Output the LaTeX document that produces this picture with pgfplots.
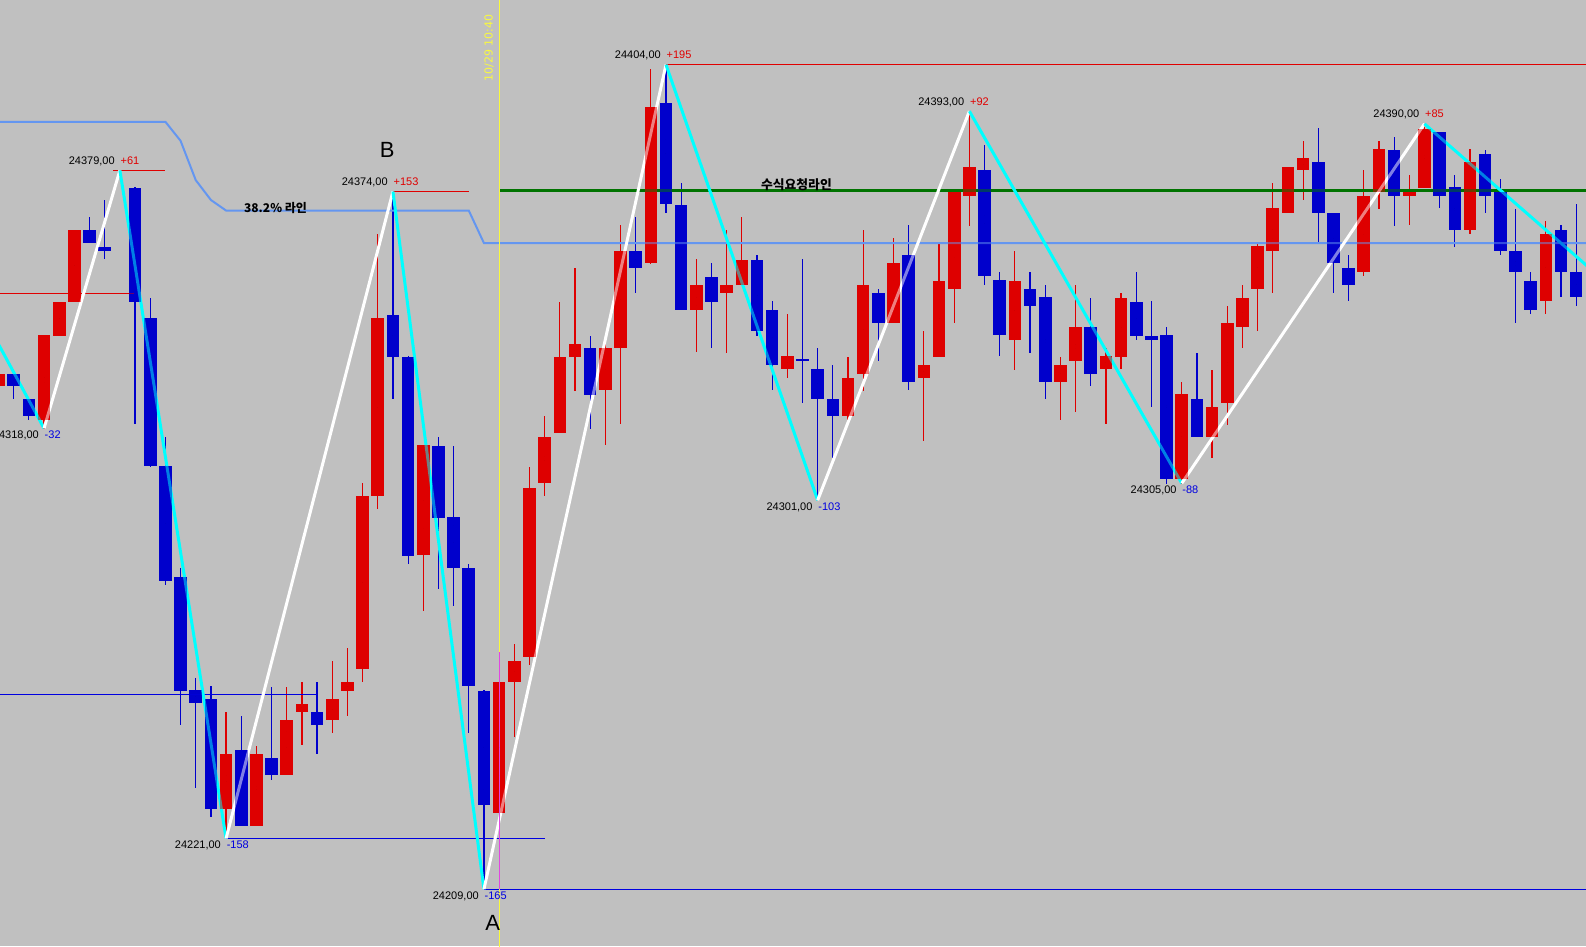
\documentclass[border=0pt]{standalone}
\usepackage{pgfplots}
\pgfplotsset{compat=1.18}
\usepackage{pgfplotstable}
\usepackage{fontspec}
\setmainfont{Liberation Sans}
\newfontfamily\kr{Noto Sans CJK KR}
\newfontfamily\dv{DejaVu Sans}
\definecolor{bg}{RGB}{192,192,192}
\definecolor{cred}{RGB}{222,0,0}
\definecolor{cblue}{RGB}{0,0,204}
\definecolor{lred}{RGB}{224,0,0}
\definecolor{lblue}{RGB}{0,0,224}
\definecolor{sky}{RGB}{100,150,240}
\definecolor{grn}{RGB}{0,115,0}
\definecolor{ylw}{RGB}{250,250,60}
\definecolor{mag}{RGB}{225,70,225}
\definecolor{cyn}{RGB}{0,255,255}

% up (red) candles: index, open, high, low, close
\pgfplotstableread{
i o h l c
-1 24328 24332 24327 24331
2 24320 24340 24318 24340
3 24340 24348 24340 24348
4 24348 24365 24348 24365
14 24228 24251 24221 24241
16 24224 24243 24224 24241
18 24236 24257 24236 24249
19 24251 24258 24243 24253
21 24249 24263 24246 24254
22 24256 24266 24250 24258
23 24261 24305 24258 24302
24 24302 24364 24299 24344
27 24288 24314 24275 24314
32 24227 24263 24209 24258
33 24258 24267 24245 24263
34 24264 24309 24262 24304
35 24305 24321 24302 24316
36 24317 24348 24317 24335
37 24335 24356 24327 24338
39 24327 24340 24314 24337
40 24337 24366 24319 24360
42 24357 24403 24357 24394
45 24346 24358 24336 24352
47 24350 24365 24336 24352
48 24352 24368 24352 24358
51 24332 24345 24330 24335
55 24321 24335 24320 24330
56 24331 24365 24327 24352
58 24343 24363 24343 24357
60 24330 24341 24315 24333
61 24335 24362 24335 24353
62 24351 24374 24343 24374
63 24373 24393 24366 24380
66 24339 24360 24332 24353
69 24329 24335 24320 24333
70 24334 24352 24322 24342
72 24332 24337 24319 24335
73 24335 24350 24332 24349
77 24306 24329 24305 24326
79 24316 24332 24311 24323
80 24324 24347 24319 24343
81 24342 24352 24337 24349
82 24351 24362 24341 24361
83 24360 24376 24350 24370
84 24369 24380 24369 24380
85 24379 24386 24372 24382
89 24355 24379 24354 24373
90 24374 24386 24370 24384
92 24373 24378 24366 24374
93 24375 24390 24375 24389
96 24365 24384 24364 24381
101 24348 24367 24345 24364
}\uptab

% down (blue) candles: index, open, high, low, close
\pgfplotstableread{
i o h l c
0 24331 24331 24325 24328
1 24325 24325 24320 24321
5 24365 24368 24362 24362
6 24361 24372 24358 24360
8 24375 24375 24319 24348
9 24344 24349 24309 24309
10 24309 24316 24281 24282
11 24283 24285 24248 24256
12 24256 24259 24233 24253
13 24254 24257 24226 24228
15 24242 24250 24224 24224
17 24240 24257 24235 24236
20 24251 24258 24241 24248
25 24345 24374 24325 24335
26 24335 24335 24286 24288
28 24314 24316 24280 24297
29 24297 24314 24276 24285
30 24285 24286 24246 24257
31 24256 24256 24209 24229
38 24337 24340 24318 24326
41 24360 24368 24350 24356
43 24395 24404 24369 24371
44 24371 24376 24346 24346
46 24354 24357 24337 24348
49 24358 24359 24340 24341
50 24346 24348 24327 24333
52 24334.4 24358 24324 24334
53 24332 24337 24301 24325
54 24325 24333 24311 24321
57 24350 24351 24334 24343
59 24359 24366 24327 24329
64 24379 24385 24352 24354
65 24353 24355 24335 24340
67 24351 24355 24336 24347
68 24349 24352 24325 24329
71 24342 24349 24328 24331
74 24348 24355 24339 24340
75 24340 24348 24323 24339
76 24340 24342 24305 24306
78 24325 24336 24316 24316
86 24381 24389 24362 24369
87 24369 24369 24350 24357
88 24356 24359 24348 24352
91 24384 24387 24366 24373
94 24388 24388 24370 24373
95 24375 24378 24361 24365
97 24383 24384 24369 24373
98 24374 24377 24359 24360
99 24360 24370 24343 24355
100 24353 24355 24345 24346
102 24365 24366 24349 24355
103 24355 24371 24347 24349
}\dntab

\newcommand\numfont{\fontsize{11pt}{13pt}\selectfont}
\newcommand\hilab[4]{%
  \node[anchor=base east, inner sep=0pt, xshift=-5pt, yshift=6pt, font=\numfont, text=black] at (axis cs:#1,#2) {#3};
  \node[anchor=base west, inner sep=0pt, xshift=0.5pt, yshift=6pt, font=\numfont, text=lred] at (axis cs:#1,#2) {#4};}
\newcommand\lolab[4]{%
  \node[anchor=base east, inner sep=0pt, xshift=-5pt, yshift=-10pt, font=\numfont, text=black] at (axis cs:#1,#2) {#3};
  \node[anchor=base west, inner sep=0pt, xshift=0.5pt, yshift=-10pt, font=\numfont, text=lblue] at (axis cs:#1,#2) {#4};}

\pgfplotsset{
  candle/.style n args={3}{only marks, mark size=0pt, mark options={draw=none, fill=none}, forget plot,
    error bars/.cd, y dir=both, y explicit, error mark=none,
    error bar style={draw=#1, line width=#2, draw opacity=#3}},
}

\begin{document}
\begin{tikzpicture}
\useasboundingbox (0,0) rectangle (1586pt,946pt);
\fill[bg] (0,0) rectangle (1586pt,946pt);
\begin{axis}[
  at={(0pt,0pt)}, anchor=south west,
  width=1586pt, height=946pt, scale only axis,
  hide axis,
  xmin=-0.903, xmax=103.65,
  ymin=24195.56, ymax=24419.3,
  clip=true,
]
% wicks
\addplot[candle={cred}{1.2pt}{1}]
  table[x=i, y expr={(\thisrow{h}+\thisrow{l})/2}, y error expr={(\thisrow{h}-\thisrow{l})/2}] {\uptab};
\addplot[candle={cblue}{1.2pt}{1}]
  table[x=i, y expr={(\thisrow{h}+\thisrow{l})/2}, y error expr={(\thisrow{h}-\thisrow{l})/2}] {\dntab};
% bodies
\addplot[candle={cred}{12.6pt}{1}]
  table[x=i, y expr={(\thisrow{o}+\thisrow{c})/2}, y error expr={abs(\thisrow{c}-\thisrow{o})/2}] {\uptab};
\addplot[candle={cblue}{12.6pt}{1}]
  table[x=i, y expr={(\thisrow{o}+\thisrow{c})/2}, y error expr={abs(\thisrow{c}-\thisrow{o})/2}] {\dntab};

% indicator lines
\addplot[sky, line width=2pt, forget plot] coordinates {(-2,24390.5) (10,24390.5) (11,24386) (12,24376.7) (13,24372) (14,24369.5) (30,24369.5) (31,24361.8) (105,24361.8)};
\addplot[grn, line width=3pt, forget plot] coordinates {(32,24374.3) (105,24374.3)};
\addplot[lred, line width=1pt, forget plot] coordinates {(-2,24350) (7.9,24350)};
\addplot[lred, line width=1pt, forget plot] coordinates {(6.55,24379) (9.97,24379)};
\addplot[lred, line width=1pt, forget plot] coordinates {(25,24374) (30,24374)};
\addplot[lred, line width=1pt, forget plot] coordinates {(43,24404) (105,24404)};
\addplot[lblue, line width=1pt, forget plot] coordinates {(-2,24255.1) (20,24255.1)};
\addplot[lblue, line width=1pt, forget plot] coordinates {(14,24221) (35,24221)};
\addplot[lblue, line width=1pt, forget plot] coordinates {(31,24209) (105,24209)};
\addplot[ylw, line width=1pt, forget plot] coordinates {(32,24190) (32,24425)};

% zigzag: down legs cyan, up legs white
\addplot[cyn, line width=3pt, forget plot] coordinates {(-2,24344.5) (2,24318)};
\addplot[white, line width=3pt, forget plot] coordinates {(2,24318) (7,24379)};
\addplot[cyn, line width=3pt, forget plot] coordinates {(7,24379) (14,24221)};
\addplot[white, line width=3pt, forget plot] coordinates {(14,24221) (25,24374)};
\addplot[cyn, line width=3pt, forget plot] coordinates {(25,24374) (31,24209)};
\addplot[white, line width=3pt, forget plot] coordinates {(31,24209) (43,24404)};
\addplot[cyn, line width=3pt, forget plot] coordinates {(43,24404) (53,24301)};
\addplot[white, line width=3pt, forget plot] coordinates {(53,24301) (63,24393)};
\addplot[cyn, line width=3pt, forget plot] coordinates {(63,24393) (77,24305)};
\addplot[white, line width=3pt, forget plot] coordinates {(77,24305) (93,24390)};
\addplot[cyn, line width=3pt, forget plot] coordinates {(93,24390) (105,24352.4)};

% translucent second pass of bodies (blend over lines)
\addplot[candle={cred}{12.6pt}{0.5}]
  table[x=i, y expr={(\thisrow{o}+\thisrow{c})/2}, y error expr={abs(\thisrow{c}-\thisrow{o})/2}] {\uptab};
\addplot[candle={cblue}{12.6pt}{0.5}]
  table[x=i, y expr={(\thisrow{o}+\thisrow{c})/2}, y error expr={abs(\thisrow{c}-\thisrow{o})/2}] {\dntab};
\addplot[mag, line width=1pt, forget plot] coordinates {(32,24209) (32,24265)};

% labels
\hilab{7}{24379}{24379,00}{+61}
\hilab{25}{24374}{24374,00}{+153}
\hilab{43}{24404}{24404,00}{+195}
\hilab{63}{24393}{24393,00}{+92}
\hilab{93}{24390}{24390,00}{+85}
\lolab{2}{24318}{24318,00}{-32}
\lolab{14}{24221}{24221,00}{-158}
\lolab{31}{24209}{24209,00}{-165}
\lolab{53}{24301}{24301,00}{-103}
\lolab{77}{24305}{24305,00}{-88}

\node[font=\fontsize{22pt}{24pt}\selectfont, inner sep=0pt] at (axis cs:24.63,24383.9) {B};
\node[font=\fontsize{22pt}{24pt}\selectfont, inner sep=0pt] at (axis cs:31.57,24201.1) {A};
\node[font=\kr\bfseries\fontsize{12pt}{14pt}\selectfont, inner sep=0pt] at (axis cs:17.26,24370.0) {38.2\% 라인};
\node[font=\kr\bfseries\fontsize{12.8pt}{14pt}\selectfont, inner sep=0pt] at (axis cs:51.6,24375.6) {수식요청라인};
\node[font=\dv\fontsize{11pt}{13pt}\selectfont, text=ylw, rotate=90, inner sep=0pt] at (axis cs:31.33,24407.9) {10/29 10:40};
\end{axis}
\end{tikzpicture}
\end{document}
